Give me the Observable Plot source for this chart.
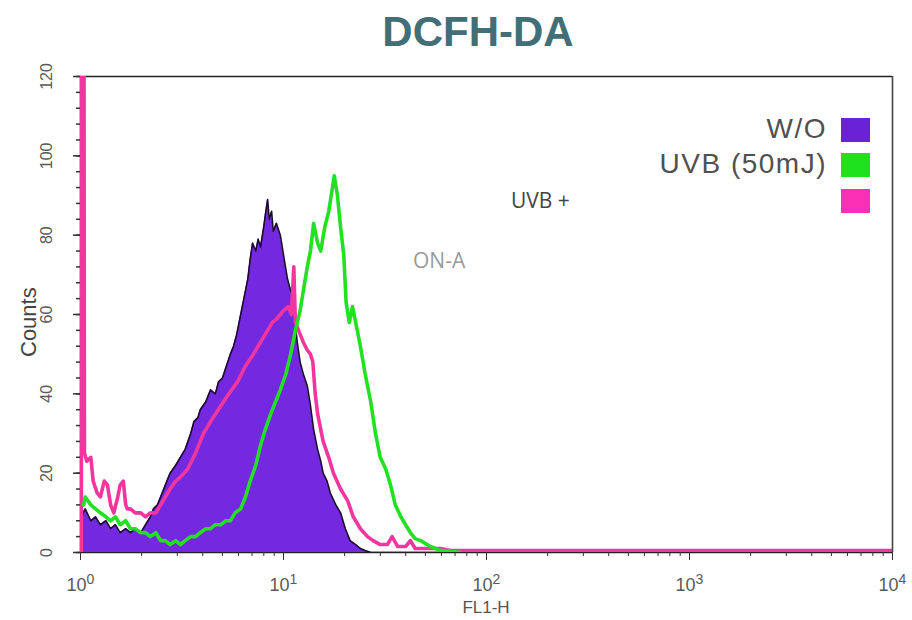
<!DOCTYPE html>
<html><head><meta charset="utf-8">
<script src="https://cdn.jsdelivr.net/npm/d3@7"></script>
<script src="https://cdn.jsdelivr.net/npm/@observablehq/plot@0.6"></script>
<style>
body{margin:0;background:#fff;}
#wrap{position:relative;width:912px;height:620px;overflow:hidden;font-family:"Liberation Sans",Arial,sans-serif;background:#fff;}
.abs{position:absolute;white-space:nowrap;line-height:1;}
#chart{position:absolute;left:0;top:62px;}
</style></head><body><div id="wrap"><div id="chart"></div></div>
<script>
// ---- text ----
const titleText = "DCFH-DA";
const xLabel = "FL1-H";
const yLabel = "Counts";
const seriesNames = ["W/O", "UVB (50mJ)", ""];
const seriesColors = ["#6a22d6", "#1ee21e", "#fb2fb4"];
const annotations = ["UVB +", "ON-A"];
const xTicks = [1, 10, 100, 1000, 10000];
const yTicks = [0, 20, 40, 60, 80, 100, 120];

// ---- data: channel (256 per decade) and counts ----
const woCh = [0,1,6,13,19,25,32,38,44,50,57,63,69,76,82,88,92,97,101,107,113,120,126,132,139,143,148,151,158,164,170,174,179,184,189,193,197,202,206,211,214,217,221,224,227,231,233,236,238,241,243,247,252,256,261,265,269,271,274,277,281,286,290,294,299,303,306,311,315,322,328,334,340,347,353,359,366,1024];
const woCount = [0,9,11,8,9,7,8,6,7,5,6,5,6,5,7,9,11,12,14,17,20,22,24,26,30,33,34,36,38,41,40,43,44,47,50,52,55,60,64,69,74,78,76,79,77,82,85,89,84,86,81,83,80,75,69,66,64,57,52,48,45,42,37,31,26,23,20,18,15,12,10,6,3,2,1,0.5,0,0];

const uvbCh = [4,6,13,19,25,32,38,44,50,57,63,69,76,82,88,95,101,107,113,120,126,132,139,145,151,158,164,170,177,183,189,195,202,208,214,221,227,233,240,246,252,259,265,271,277,281,286,290,294,299,303,308,313,317,320,324,328,332,335,339,343,348,353,359,366,372,378,385,391,397,404,410,416,422,429,441,454,467,479];
const uvbCount = [12,14,12,11,10,9,8,9,7,8,6,6,5,5,4,5,3,3,2,3,2,3,4,4,5,6,6,7,7,8,8,10,11,14,18,22,27,31,35,38,41,45,50,56,61,66,72,76,83,78,76,82,86,91,95,90,82,75,63,58,62,57,52,45,38,30,24,21,17,12,9,7,5,3.5,3,1.5,0.5,0.3,0];

const onaCh = [0,4,5,8,13,16,21,25,30,34,38,42,47,50,54,57,59,63,69,76,82,88,95,101,107,113,120,126,135,145,155,164,177,187,198,208,218,227,236,242,248,256,262,266,269,271,277,281,286,290,293,296,299,303,306,313,319,328,337,344,353,362,369,378,387,393,400,410,416,422,435,454,467,1024];
const onaCount = [200,200,25,23,24,18,15,14,18,17,12,10,14,17,18,12,11,11,10,10,9,10,10,12,14,16,18,19,21,25,30,33,37,40,43,47,50,53,56,58,59,61,62,60,72,58,55,53,51,50,48,40,35,31,28,24,20,16,13,9,6,4,3,2,2,4,1.5,1.5,3,1,1,1,0.5,0.5];

const toFL = ch => Math.pow(10, ch / 256);
const mk = (ch, cnt) => ch.map((c, i) => ({x: toFL(c), y: cnt[i]}));
const wo = mk(woCh, woCount), uvb = mk(uvbCh, uvbCount), ona = mk(onaCh, onaCount);
// first (off-scale) bin of the UVB + ON-A histogram
const onaFirstBin = [{x1: toFL(onaCh[0]), x2: toFL(onaCh[1]), y: onaCount[0]}];

const yMinor = d3.range(0, 121, 4);
const xMinor = [];
for (let k = 0; k < 4; k++) for (let m = 2; m <= 9; m++) xMinor.push(m * Math.pow(10, k));

const plot = Plot.plot({
  width: 912, height: 558,
  marginLeft: 80, marginRight: 20, marginTop: 14, marginBottom: 68,
  x: {type: "log", domain: [1, 10000]},
  y: {domain: [0, 120]},
  style: {fontFamily: "'Liberation Sans', Arial, sans-serif", color: "#5a5a5a", background: "transparent"},
  marks: [
    Plot.ruleY([120], {stroke: "#222", strokeWidth: 1.6}),
    Plot.ruleX([10000], {stroke: "#444", strokeWidth: 1.6}),
    Plot.ruleY([0], {stroke: "#222", strokeWidth: 1.6}),
    Plot.ruleX([1], {stroke: "#222", strokeWidth: 1.6}),
    Plot.areaY(wo, {x: "x", y: "y", fill: "#7428e0", clip: true}),
    Plot.lineY(wo, {x: "x", y: "y", stroke: "#1c0b30", strokeWidth: 1.6, clip: true}),
    Plot.rectY(onaFirstBin, {x1: "x1", x2: "x2", y: "y", fill: "#f2369e", clip: true}),
    Plot.lineY(ona, {x: "x", y: "y", stroke: "#f2369e", strokeWidth: 3.6, clip: true}),
    Plot.lineY(uvb, {x: "x", y: "y", stroke: "#22e022", strokeWidth: 3.6, clip: true}),
    Plot.axisY({ticks: yTicks, tickSize: 7, tickRotate: -90, tickPadding: 22, fontSize: 16, label: null, stroke: "#333", strokeWidth: 1.5}),
    Plot.axisY({ticks: yMinor, tickSize: 4, tickFormat: () => "", label: null, stroke: "#333", strokeWidth: 1.5}),
    Plot.axisX({ticks: xTicks, tickSize: 8, tickPadding: 18, fontSize: 18, label: null, stroke: "#333",
      tickFormat: d => "10^" + Math.round(Math.log10(d))}),
    Plot.axisX({ticks: xMinor, tickSize: 4, tickFormat: () => "", label: null, stroke: "#333"})
  ]
});
document.getElementById("chart").appendChild(plot);

// superscript exponents on x tick labels
d3.select(plot).selectAll("text").each(function() {
  const t = this.textContent;
  if (/^10\^\d$/.test(t)) {
    const e = t.split("^")[1];
    const s = d3.select(this);
    s.text("10");
    s.append("tspan").attr("dy", "-0.55em").attr("font-size", "14").text(e);
  }
});

// ---- HTML text ----
const wrap = document.getElementById("wrap");
function place(txt, o) {
  const d = document.createElement("div");
  d.className = "abs";
  d.textContent = txt;
  d.style.fontSize = o.size + "px";
  if (o.family) d.style.fontFamily = o.family;
  if (o.weight) d.style.fontWeight = o.weight;
  d.style.color = o.color || "#555";
  if (o.ls) d.style.letterSpacing = o.ls + "px";
  const ratio = o.ratio || 0.8465;
  d.style.top = (o.baseline - ratio * o.size) + "px";
  if (o.anchor === "end") d.style.right = (912 - o.x) + "px";
  else if (o.anchor === "middle") { d.style.left = o.x + "px"; d.style.transform = "translateX(-50%)"; }
  else d.style.left = o.x + "px";
  wrap.appendChild(d);
  return d;
}
place(titleText, {x: 478, baseline: 47, size: 42, weight: "bold", color: "#426e76", anchor: "middle"});
// legend
const legBase = [139, 173.5, 210];
const legTop = [118, 153, 189];
seriesNames.forEach((n, i) => {
  if (n) place(n, {x: 827, baseline: legBase[i], size: 28, color: "#505050", anchor: "end", ls: 1.5});
  const sq = document.createElement("div");
  sq.style.cssText = `position:absolute;left:841px;top:${legTop[i]}px;width:29px;height:24px;background:${seriesColors[i]};`;
  wrap.appendChild(sq);
});
place(annotations[0], {x: 511, baseline: 209, size: 21, family: "'Open Sans', sans-serif", color: "#444", ratio: 0.888});
place(annotations[1], {x: 413, baseline: 269, size: 21, family: "'Open Sans', sans-serif", color: "#9a9a9a", ratio: 0.888});
place(xLabel, {x: 486, baseline: 613, size: 17, color: "#555", anchor: "middle"});
const yl = place(yLabel, {x: 0, baseline: 0, size: 22, color: "#444"});
yl.style.left = "0px"; yl.style.top = "0px";
yl.style.transformOrigin = "0 0";
yl.style.transform = "translate(18px, 357px) rotate(-90deg)";
</script>
</body></html>
